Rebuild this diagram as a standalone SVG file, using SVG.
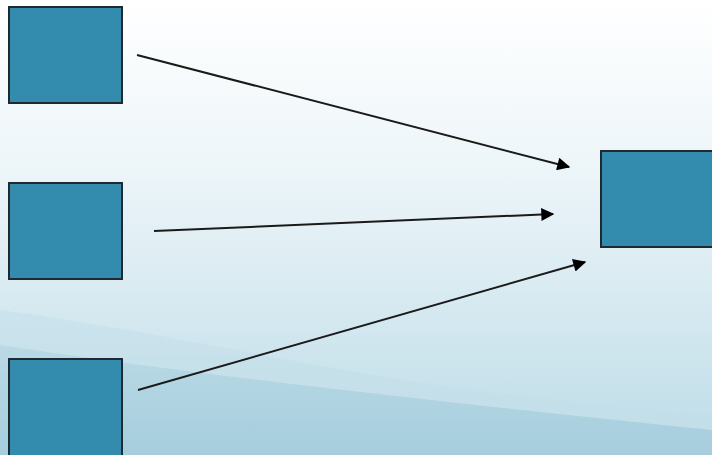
<svg xmlns="http://www.w3.org/2000/svg" width="712" height="455" viewBox="0 0 712 455">
<defs>
<linearGradient id="bg" x1="0" y1="0" x2="0" y2="1">
<stop offset="0" stop-color="#ffffff"/>
<stop offset="0.35" stop-color="#eef6f9"/>
<stop offset="0.65" stop-color="#d8eaf1"/>
<stop offset="1" stop-color="#bcdce7"/>
</linearGradient>
<linearGradient id="wave" x1="0" y1="0" x2="0" y2="1">
<stop offset="0" stop-color="#b0d4e1"/>
<stop offset="1" stop-color="#94c3d6"/>
</linearGradient>
<marker id="ah" viewBox="0 0 10 10" refX="9" refY="5" markerWidth="7.5" markerHeight="6.5" orient="auto" markerUnits="strokeWidth">
<path d="M0,0 L10,5 L0,10 z" fill="#000"/>
</marker>
<style>
.box{fill:#338cae;stroke:#1e2a30;stroke-width:2}
.conn{stroke:#1a1a1a;stroke-width:2;fill:none;marker-end:url(#ah)}
</style>
</defs>
<rect width="712" height="455" fill="url(#bg)"/>
<path d="M0,310 C150,330 320,370 470,390 C570,402 650,410 712,418 L712,455 L0,455 z" fill="#c2dfe9" opacity="0.55"/>
<path d="M0,345 C200,375 420,400 712,430 L712,455 L0,455 z" fill="url(#wave)" opacity="0.6"/>
<g id="node-a"><rect class="box" x="9" y="7" width="113" height="96"/></g>
<g id="node-b"><rect class="box" x="9" y="183" width="113" height="96"/></g>
<g id="node-c"><rect class="box" x="9" y="359" width="113" height="100"/></g>
<g id="node-d"><rect class="box" x="601" y="151" width="115" height="96"/></g>
<g id="connectors">
<line class="conn" x1="137" y1="55" x2="569" y2="167"/>
<line class="conn" x1="154" y1="231" x2="553" y2="214"/>
<line class="conn" x1="138" y1="390" x2="585" y2="262"/>
</g>
</svg>
